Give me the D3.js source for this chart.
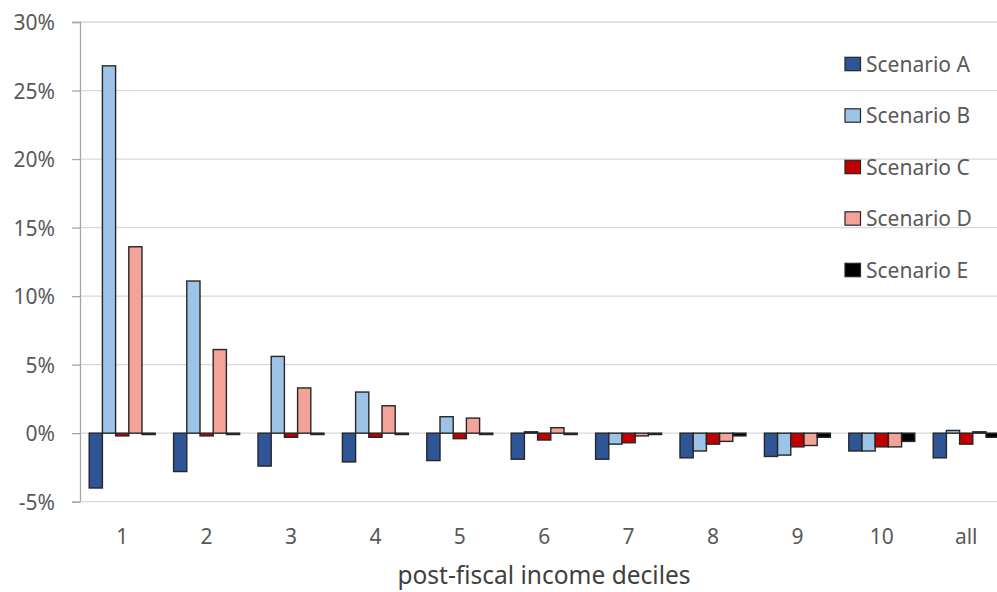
<!DOCTYPE html>
<html><head><meta charset="utf-8">
<script src="https://cdn.jsdelivr.net/npm/d3@7"></script>
<style>body{margin:0;background:#fff}svg{display:block}</style>
</head><body>
<svg id="c" width="997" height="592"></svg>
<script>
const categories = ["1","2","3","4","5","6","7","8","9","10","all"];
const seriesNames = ["Scenario A","Scenario B","Scenario C","Scenario D","Scenario E"];
const scenarioA = [-4.0,-2.8,-2.4,-2.1,-2.0,-1.9,-1.9,-1.8,-1.7,-1.3,-1.8];
const scenarioB = [26.8,11.1,5.6,3.0,1.2,0.1,-0.8,-1.3,-1.6,-1.3,0.2];
const scenarioC = [-0.2,-0.2,-0.3,-0.3,-0.4,-0.5,-0.7,-0.8,-1.0,-1.0,-0.8];
const scenarioD = [13.6,6.1,3.3,2.0,1.1,0.4,-0.2,-0.6,-0.9,-1.0,0.1];
const scenarioE = [-0.1,-0.1,-0.1,-0.1,-0.1,-0.1,-0.1,-0.2,-0.3,-0.6,-0.3];
const yTicks = [-5,0,5,10,15,20,25,30];
const colors = ["#2F5597","#9DC3E6","#C00000","#F4A39A","#000000"];
const allSeries = [scenarioA,scenarioB,scenarioC,scenarioD,scenarioE];

const svg = d3.select("#c");
const font = "'Noto Sans', 'Open Sans', sans-serif";
const x = d3.scaleBand().domain(categories).range([80,1008.4]).paddingInner(0.218).paddingOuter(0.109);
const xs = d3.scaleBand().domain(seriesNames).range([0,x.bandwidth()]);
const y = d3.scaleLinear().domain([-5,30]).range([501.7,22]);

// gridlines
svg.append("g").selectAll("line").data(yTicks.filter(t=>t>-5)).join("line")
  .attr("x1",80).attr("x2",997).attr("y1",d=>y(d)).attr("y2",d=>y(d))
  .attr("stroke","#d9d9d9").attr("stroke-width",1.3);

// y axis
const yAxis = d3.axisLeft(y).tickValues(yTicks).tickSize(8).tickFormat(d=>d+"%");
const gy = svg.append("g").attr("transform","translate(80,0)").call(yAxis);
gy.select(".domain").attr("stroke","#a6a6a6").attr("stroke-width",1.3);
gy.selectAll(".tick line").attr("stroke","#a6a6a6").attr("stroke-width",1.3);
gy.selectAll(".tick text").attr("x",-25).attr("dy","0.36em").attr("fill","#595959")
  .style("font-family",font).style("font-size","21px");

// x axis at -5%
const xAxis = d3.axisBottom(x).tickSize(0).tickPadding(0);
const gx = svg.append("g").attr("transform",`translate(0,${y(-5)})`).call(xAxis);
gx.select(".domain").attr("stroke","#d9d9d9").attr("stroke-width",1.3).attr("d",`M80,0H997`);
gx.selectAll(".tick text").attr("dy",0).attr("y",42.3).attr("fill","#595959")
  .style("font-family",font).style("font-size","21px");

// bars
const groups = svg.append("g").selectAll("g").data(categories).join("g")
  .attr("transform",d=>`translate(${x(d)},0)`);
groups.selectAll("rect").data((c,i)=>allSeries.map((s,j)=>({name:seriesNames[j],v:s[i],j}))).join("rect")
  .attr("x",d=>xs(d.name)).attr("width",xs.bandwidth())
  .attr("y",d=>y(Math.max(0,d.v))).attr("height",d=>Math.abs(y(d.v)-y(0)))
  .attr("fill",d=>colors[d.j]).attr("stroke","#262626").attr("stroke-width",1.4);

// legend
const lg = svg.append("g").selectAll("g").data(seriesNames).join("g")
  .attr("transform",(d,i)=>`translate(845,${64+i*51.5})`);
lg.append("rect").attr("x",0).attr("y",-6.7).attr("width",15.5).attr("height",13.4)
  .attr("fill",(d,i)=>colors[i]).attr("stroke","#262626").attr("stroke-width",1.2);
lg.append("text").attr("x",21).attr("y",0).attr("dy","0.36em").text(d=>d)
  .attr("fill","#595959").style("font-family",font).style("font-size","21px");

// x title
svg.append("text").attr("x",544).attr("y",584).attr("text-anchor","middle")
  .text("post-fiscal income deciles").attr("fill","#404040")
  .style("font-family",font).style("font-size","24.5px");
</script>
</body></html>
